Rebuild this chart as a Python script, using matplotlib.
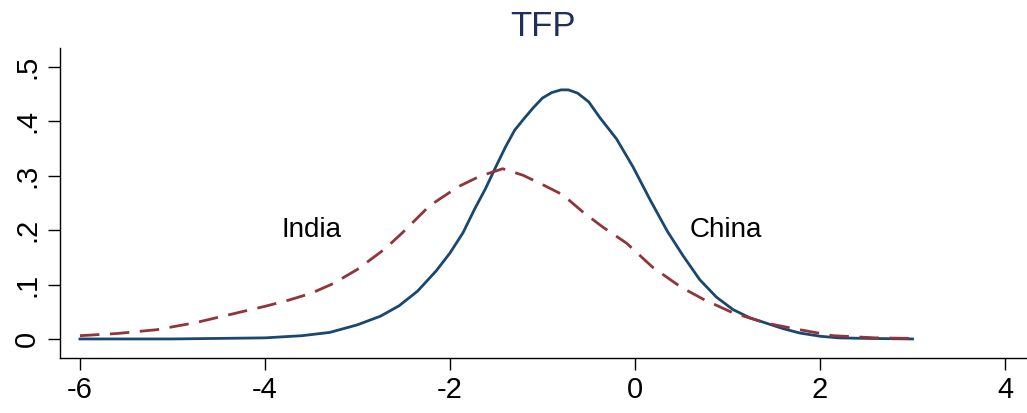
import matplotlib
matplotlib.use("Agg")
import matplotlib.pyplot as plt
from matplotlib.ticker import FuncFormatter

# kernel density of TFP, read at selected points
china_x = [-6.0, -5.0, -4.5, -4.0, -3.6, -3.3, -3.0, -2.75, -2.55, -2.35, -2.15,
           -2.0, -1.86, -1.73, -1.62, -1.5, -1.4, -1.3, -1.2, -1.1, -1.0, -0.9,
           -0.8, -0.72, -0.62, -0.5, -0.38, -0.2, -0.02, 0.16, 0.35, 0.52, 0.7,
           0.88, 1.06, 1.24, 1.42, 1.6, 1.78, 2.0, 2.2, 2.5, 3.0]
china_y = [0.0, 0.0, 0.001, 0.002, 0.006, 0.012, 0.026, 0.042, 0.061, 0.088, 0.125,
           0.158, 0.195, 0.240, 0.275, 0.318, 0.353, 0.384, 0.405, 0.425, 0.443, 0.453,
           0.458, 0.458, 0.452, 0.436, 0.407, 0.368, 0.316, 0.257, 0.198, 0.153, 0.109,
           0.077, 0.054, 0.039, 0.029, 0.019, 0.011, 0.005, 0.002, 0.001, 0.0]

india_x = [-6.0, -5.6, -5.17, -4.75, -4.35, -4.0, -3.75, -3.5, -3.26, -3.0, -2.7,
           -2.51, -2.22, -1.91, -1.68, -1.43, -1.21, -0.99, -0.78, -0.56, -0.35,
           -0.09, 0.19, 0.5, 0.75, 1.06, 1.42, 1.78, 2.14, 2.6, 3.0]
india_y = [0.006, 0.010, 0.017, 0.030, 0.046, 0.060, 0.071, 0.084, 0.102, 0.128, 0.166,
           0.196, 0.245, 0.280, 0.299, 0.313, 0.301, 0.283, 0.265, 0.233, 0.206,
           0.176, 0.132, 0.095, 0.072, 0.048, 0.029, 0.017, 0.006, 0.002, 0.001]

x_ticks = [-6, -4, -2, 0, 2, 4]
y_ticks = [0, 0.1, 0.2, 0.3, 0.4, 0.5]

navy = "#1a476f"
maroon = "#90353b"

plt.rcParams["font.family"] = ["Liberation Sans", "DejaVu Sans"]
plt.rcParams["axes.unicode_minus"] = False

fig = plt.figure(figsize=(10.27, 4.13), dpi=100)
ax = fig.add_axes([0.0584, 0.1332, 0.9416, 0.7506])

ax.plot(china_x, china_y, color=navy, lw=2.0)
ax.plot(india_x, india_y, color=maroon, lw=2.0, dashes=(7, 3.8))

ax.text(-3.50, 0.200, "India", fontsize=20, ha="center", va="center")
ax.text(0.98, 0.200, "China", fontsize=20, ha="center", va="center")

ax.set_xlim(-6.216, 4.238)
ax.set_ylim(-0.035, 0.535)
ax.set_xticks(x_ticks)
ax.set_yticks(y_ticks)
ax.yaxis.set_major_formatter(FuncFormatter(
    lambda v, p: "0" if v == 0 else ("%.1f" % v).lstrip("0")))
ax.tick_params(axis="both", length=8.6, width=1, direction="out", labelsize=21)
ax.tick_params(axis="x", pad=4.7)
ax.tick_params(axis="y", pad=5, labelrotation=90)
for lab in ax.get_yticklabels():
    lab.set_va("center")

for s in ["top", "right"]:
    ax.spines[s].set_visible(False)
for s in ["left", "bottom"]:
    ax.spines[s].set_linewidth(1)

ax.set_title("TFP", fontsize=25, color="#1e2f5a", pad=8.6)

fig.savefig("out.png", dpi=100)
